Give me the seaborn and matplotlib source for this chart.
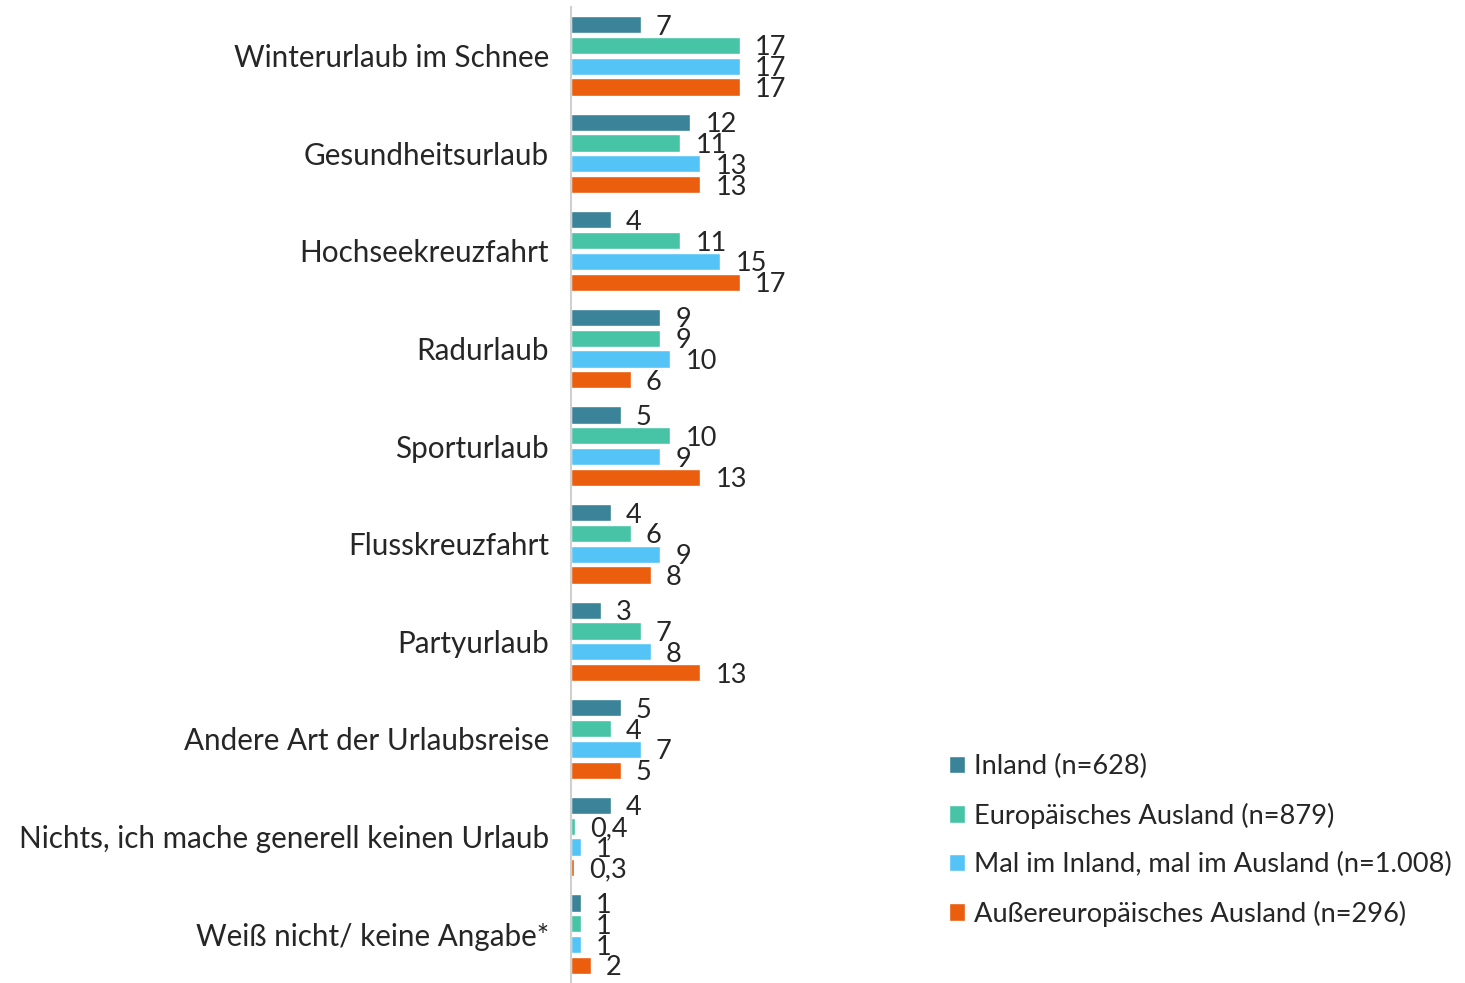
import numpy as np
import pandas as pd
import seaborn as sns
import matplotlib.pyplot as plt
from matplotlib.ticker import FixedLocator

categories = ["Winterurlaub im Schnee", "Gesundheitsurlaub", "Hochseekreuzfahrt",
              "Radurlaub", "Sporturlaub", "Flusskreuzfahrt", "Partyurlaub",
              "Andere Art der Urlaubsreise", "Nichts, ich mache generell keinen Urlaub",
              "Weiß nicht/ keine Angabe*"]
series = ["Inland (n=628)", "Europäisches Ausland (n=879)",
          "Mal im Inland, mal im Ausland (n=1.008)", "Außereuropäisches Ausland (n=296)"]
inland = [7, 12, 4, 9, 5, 4, 3, 5, 4, 1]
europa = [17, 11, 11, 9, 10, 6, 7, 4, 0.4, 1]
mal = [17, 13, 15, 10, 9, 9, 8, 7, 1, 1]
aussereuropa = [17, 13, 17, 6, 13, 8, 13, 5, 0.3, 2]
colors = ["#3A8399", "#47C3A6", "#54C4F7", "#EB5E0E"]

df = pd.DataFrame({"Kategorie": categories * 4,
                   "Gruppe": np.repeat(series, len(categories)),
                   "Wert": inland + europa + mal + aussereuropa})

sns.set_style("white")
plt.rcParams['font.family'] = ['Lato', 'DejaVu Sans']

fig = plt.figure(figsize=(14.65, 9.83), dpi=100)
ax = fig.add_axes([571 / 1465, 0.0, 337.2 / 1465, 976 / 983])

sns.barplot(data=df, y="Kategorie", x="Wert", hue="Gruppe", order=categories,
            hue_order=series, palette=colors, orient="h", width=0.85, gap=0.17,
            saturation=1, ax=ax, legend=True)

def fmt(v):
    return str(int(v)) if float(v).is_integer() else str(v).replace(".", ",")

for cont in ax.containers:
    texts = ax.bar_label(cont, labels=[fmt(b.get_width()) for b in cont], padding=11,
                         fontsize=19.5)
    for t in texts:
        t.set_va("center_baseline")

ax.set_xlim(0, 33.93)
ax.set_ylim(len(categories) - 0.5, -0.5)
ax.set_xlabel("")
ax.set_ylabel("")
ax.set_xticks([])
ax.tick_params(axis="y", which="major", length=0, pad=16, labelsize=21.3)
ax.yaxis.set_minor_locator(FixedLocator(np.arange(-0.5, len(categories), 1)))
ax.tick_params(axis="y", which="minor", length=8, width=1.5, color="#D0D0D0", direction="out")
for side in ["top", "right", "bottom"]:
    ax.spines[side].set_visible(False)
ax.spines["left"].set_color("#D0D0D0")
ax.spines["left"].set_linewidth(1.5)

handles, labels = ax.get_legend_handles_labels()
ax.legend(handles, labels, loc="upper left", bbox_to_anchor=(949 / 1465, 1 - 754 / 983),
          bbox_transform=fig.transFigure, frameon=False, fontsize=19.6,
          handlelength=0.6, handleheight=0.6, handletextpad=0.3, labelspacing=0.86,
          borderaxespad=0, borderpad=0)

fig.savefig("out.png", dpi=100)
